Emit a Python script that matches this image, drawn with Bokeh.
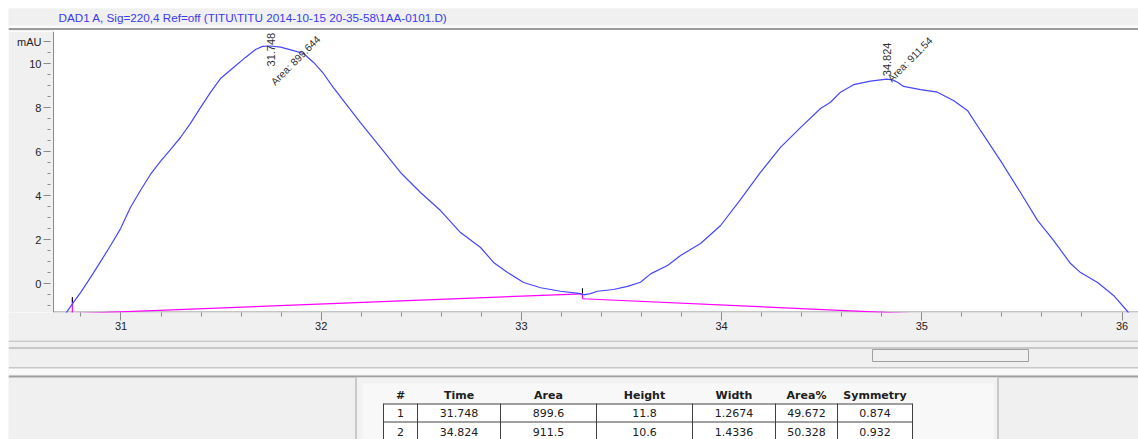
import numpy as np
from bokeh.plotting import figure
from bokeh.layouts import column, row
from bokeh.models import Range1d, FixedTicker, Spacer, Label
from bokeh.core.properties import value
from bokeh.embed import file_html
from bokeh.resources import INLINE

# ---------------- data ----------------
signal_title = "DAD1 A, Sig=220,4 Ref=off (TITU\\TITU 2014-10-15 20-35-58\\1AA-0101.D)"

time_min = [30.710, 30.728, 30.758, 30.798, 30.848, 30.898, 30.948, 30.998, 31.047, 31.097,
            31.147, 31.197, 31.247, 31.297, 31.347, 31.397, 31.447, 31.497, 31.562, 31.622,
            31.672, 31.707, 31.748, 31.797, 31.862, 31.912, 31.962, 32.011, 32.061, 32.111,
            32.196, 32.296, 32.396, 32.496, 32.596, 32.696, 32.796, 32.861, 32.931, 33.011,
            33.096, 33.196, 33.296, 33.311, 33.345, 33.380, 33.460, 33.530, 33.595, 33.645,
            33.730, 33.795, 33.895, 33.995, 34.094, 34.194, 34.294, 34.394, 34.494, 34.544,
            34.594, 34.659, 34.744, 34.824, 34.854, 34.879, 34.909, 34.994, 35.078, 35.158,
            35.228, 35.293, 35.393, 35.493, 35.578, 35.658, 35.743, 35.793, 35.878, 35.958,
            36.028, 36.043]
signal_mau = [-1.54, -1.30, -0.90, -0.40, 0.29, 1.01, 1.74, 2.51, 3.47, 4.24,
              4.97, 5.56, 6.10, 6.65, 7.29, 8.01, 8.70, 9.33, 9.83, 10.29,
              10.65, 10.79, 10.81, 10.76, 10.60, 10.47, 10.06, 9.56, 8.92, 8.33,
              7.33, 6.20, 5.06, 4.15, 3.33, 2.33, 1.65, 0.97, 0.51, 0.06,
              -0.18, -0.34, -0.45, -0.50, -0.45, -0.34, -0.26, -0.12, 0.07, 0.45,
              0.83, 1.29, 1.83, 2.65, 3.83, 5.06, 6.20, 7.10, 7.97, 8.25,
              8.71, 9.05, 9.21, 9.30, 9.27, 9.16, 8.97, 8.83, 8.71, 8.33,
              7.88, 6.97, 5.60, 4.15, 2.88, 1.97, 0.92, 0.51, 0.06, -0.53,
              -1.26, -1.49]

# integration baselines (start/end time and level)
base1_t = [30.757, 33.305]
base1_v = [-1.36, -0.455]
base2_t = [33.305, 36.030]
base2_v = [-0.68, -1.80]

# peak annotations
peak_rt = [31.748, 34.824]
peak_top = [10.81, 9.30]
peak_area_text = ["Area: 899.644", "Area: 911.54"]

y_ticks = [0, 2, 4, 6, 8, 10, 11]
y_minor = [-1, -0.5, 0.5, 1, 1.5, 2, 2.5, 3, 3.5, 4, 4.5, 5, 5.5, 6, 6.5, 7, 7.5, 8,
           8.5, 9, 9.5, 10, 10.5, 11]
x_ticks = [31, 32, 33, 34, 35, 36]
x_minor = [round(30.8 + 0.2 * i, 1) for i in range(27)]

# results table
table_header = ["#", "Time", "Area", "Height", "Width", "Area%", "Symmetry"]
peak_no = ["1", "2"]
peak_time = ["31.748", "34.824"]
peak_area = ["899.6", "911.5"]
peak_height = ["11.8", "10.6"]
peak_width = ["1.2674", "1.4336"]
peak_area_pct = ["49.672", "50.328"]
peak_symmetry = ["0.874", "0.932"]

FONT = value("Liberation Sans")
GRAY = "#f0f0f0"
EDGE = "#a0a0a0"
AXIS = "#8a8a8a"
W = 1130

# time window of the plot pane; the y axis sits at T_AXIS
T_LEFT, T_AXIS, T_RIGHT = 30.4381, 30.6628, 36.0824
V_LO, V_HI = -1.305, 11.468


def pixel_fig(height, y0, y1):
    f = figure(width=W, height=height, x_range=Range1d(8, 1138), y_range=Range1d(y1, y0),
               x_axis_type=None, y_axis_type=None, output_backend="svg",
               toolbar_location=None, min_border=0, outline_line_color=None,
               background_fill_color=GRAY, border_fill_color=GRAY)
    f.grid.visible = False
    return f


# ---------------- header bar ----------------
h = pixel_fig(23, 8, 31)
h.quad(left=8, right=1138, top=25, bottom=8, fill_color=GRAY, line_color=None)
h.quad(left=8, right=1138, top=27.5, bottom=25, fill_color="#fbfbfb", line_color=None)
h.quad(left=8, right=1138, top=29.5, bottom=27.5, fill_color="#9c9c9c", line_color=None)
h.quad(left=53, right=1138, top=31, bottom=29.5, fill_color="white", line_color=None)
h.text(x=[58], y=[16.5], text=[signal_title], text_baseline="middle", text_align="left",
       text_font=FONT, text_font_size="11.7px", text_color="#3a3af0")

# ---------------- chromatogram ----------------
p = figure(width=W, height=309, x_range=Range1d(T_LEFT, T_RIGHT), y_range=Range1d(V_LO, V_HI),
           output_backend="svg", toolbar_location=None,
           min_border_left=0, min_border_right=0, min_border_top=0, min_border_bottom=28,
           background_fill_color="white", border_fill_color=GRAY, outline_line_color=None)
p.grid.visible = False

# grey margin left of the signal axis
p.quad(left=T_LEFT, right=T_AXIS, bottom=V_LO, top=V_HI, fill_color=GRAY, line_color=None)

ya = p.yaxis[0]
ya.fixed_location = T_AXIS
ya.ticker = FixedTicker(ticks=y_ticks, minor_ticks=y_minor)
ya.major_label_overrides = {11: "mAU"}
ya.major_tick_in = -3
ya.major_tick_out = 10
ya.minor_tick_in = -3
ya.minor_tick_out = 6
ya.major_label_standoff = 2

xa = p.xaxis[0]
xa.ticker = FixedTicker(ticks=x_ticks, minor_ticks=x_minor)
xa.major_tick_in = 0
xa.major_tick_out = 8
xa.minor_tick_in = 0
xa.minor_tick_out = 4
xa.major_label_standoff = 1

for ax in (xa, ya):
    ax.axis_line_color = AXIS
    ax.major_tick_line_color = AXIS
    ax.minor_tick_line_color = AXIS
    ax.major_label_text_font = "Liberation Sans"
    ax.major_label_text_font_size = "11px"
    ax.major_label_text_color = "#222222"
xa.axis_line_color = None

# time axis line, starting at the signal axis
v_axis = V_LO + 0.5 / 22
p.segment(x0=[T_AXIS], y0=[v_axis], x1=[T_RIGHT], y1=[v_axis], line_color=AXIS, line_width=1)

p.add_layout(Label(x=36.072, y=-1.94, text="min", text_baseline="middle", text_align="left",
                   text_font="Liberation Sans", text_font_size="11px", text_color="#222222"))

# baselines and event marks
p.line(base1_t, base1_v, line_color="#ff00ff", line_width=1.2)
p.line(base2_t, base2_v, line_color="#ff00ff", line_width=1.2)
p.segment(x0=[base1_t[0], base1_t[1]], y0=[-0.67, base1_v[1]],
          x1=[base1_t[0], base2_t[0]], y1=[base1_v[0], base2_v[0]],
          line_color="#ff00ff", line_width=1.2)
p.segment(x0=[base1_t[0], base1_t[1]], y0=[-0.60, -0.20],
          x1=[base1_t[0], base1_t[1]], y1=[-0.85, -0.44],
          line_color="black", line_width=1)

# signal trace
p.line(time_min, signal_mau, line_color="#4646ff", line_width=1.2)

# retention time and area labels
p.text(x=[peak_rt[0]], y=[peak_top[0]], text=[f"{peak_rt[0]:.3f}"], angle=np.pi / 2,
       text_align="left", text_baseline="middle", y_offset=20.5,
       text_font=FONT, text_font_size="11px", text_color="#303030")
p.text(x=[peak_rt[1]], y=[peak_top[1]], text=[f"{peak_rt[1]:.3f}"], angle=np.pi / 2,
       text_align="left", text_baseline="middle", y_offset=-3,
       text_font=FONT, text_font_size="11px", text_color="#303030")
p.text(x=[peak_rt[0]], y=[peak_top[0]], text=[peak_area_text[0]], angle=np.pi / 4,
       text_align="left", text_baseline="middle", x_offset=2, y_offset=37.5,
       text_font=FONT, text_font_size="10.3px", text_color="#303030")
p.text(x=[peak_rt[1]], y=[peak_top[1]], text=[peak_area_text[1]], angle=np.pi / 4,
       text_align="left", text_baseline="middle", x_offset=3, y_offset=1,
       text_font=FONT, text_font_size="10.3px", text_color="#303030")

# ---------------- lower panes and results table ----------------
b = pixel_fig(99, 340, 439)
b.quad(left=8, right=1138, top=341, bottom=340, fill_color=EDGE, line_color=None)
b.quad(left=8, right=1138, top=348, bottom=347, fill_color=EDGE, line_color=None)
b.quad(left=872, right=1028, top=361, bottom=349, fill_color=GRAY, line_color=EDGE, line_width=1)
b.quad(left=8, right=1138, top=368, bottom=367, fill_color=EDGE, line_color=None)
b.quad(left=8, right=1138, top=374, bottom=368, fill_color="#fafafa", line_color=None)
b.quad(left=8, right=1138, top=377, bottom=375, fill_color=EDGE, line_color=None)

b.quad(left=355, right=998, top=439, bottom=377, fill_color="#f2f2f2", line_color=None)
b.quad(left=362, right=993, top=439, bottom=383, fill_color="#f8f8f8", line_color=None)
b.segment(x0=[355.5, 997.5], y0=[377, 377], x1=[355.5, 997.5], y1=[439, 439],
          line_color=EDGE, line_width=1)

col_edges = [383, 417, 500, 596, 692, 775, 837, 912]
col_centers = [(a + c) / 2 for a, c in zip(col_edges[:-1], col_edges[1:])]
b.quad(left=col_edges[0], right=col_edges[-1], top=440, bottom=403, fill_color="white",
       line_color=None)
b.segment(x0=col_edges, y0=[403] * len(col_edges), x1=col_edges, y1=[440] * len(col_edges),
          line_color="#404040", line_width=1)
b.segment(x0=[col_edges[0]] * 2, y0=[403.5, 421.5], x1=[col_edges[-1]] * 2, y1=[403.5, 421.5],
          line_color="#404040", line_width=1)

b.text(x=col_centers, y=[395] * 7, text=table_header, text_align="center", text_baseline="middle",
       text_font=value("DejaVu Sans"), text_font_style="bold", text_font_size="11px",
       text_color="#202020")
rows = [peak_no, peak_time, peak_area, peak_height, peak_width, peak_area_pct, peak_symmetry]
for i, row_y in enumerate([412.5, 431]):
    b.text(x=col_centers, y=[row_y] * 7, text=[c[i] for c in rows], text_align="center",
           text_baseline="middle", text_font=value("DejaVu Sans"), text_font_size="11px",
           text_color="#202020")

layout = column(Spacer(width=1138, height=8),
                row(Spacer(width=8, height=431), column(h, p, b, spacing=0), spacing=0),
                spacing=0)

open("out.html", "w").write(file_html(layout, INLINE))
